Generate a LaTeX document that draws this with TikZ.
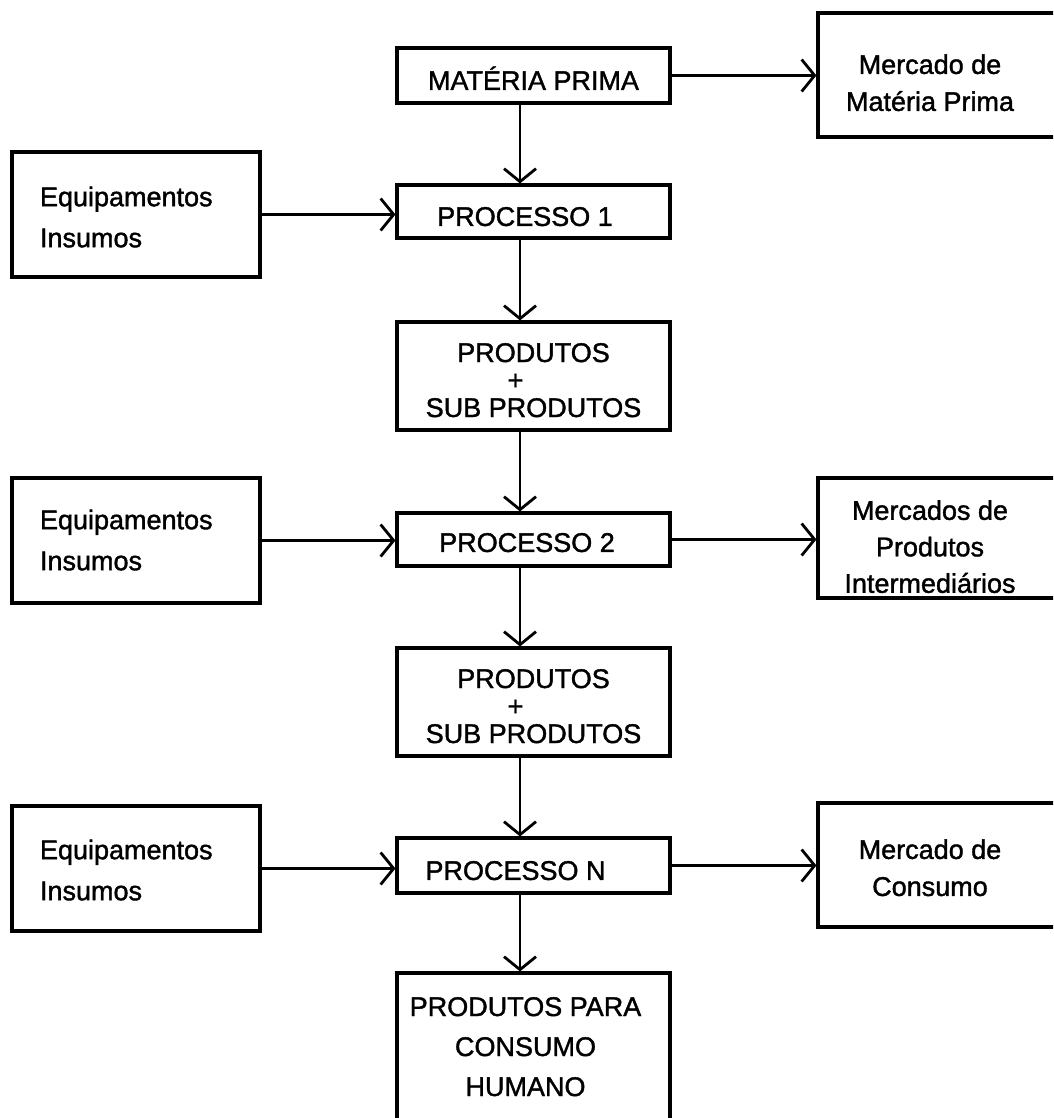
\documentclass[tikz,border=0pt]{standalone}
\usepackage{fontspec}
\setmainfont{Liberation Sans}[FakeBold=1.4]
\usetikzlibrary{arrows.meta}

% centred block of lines, lowered by #1 pt without changing the box size
\newcommand\txtc[2][5]{\raisebox{-#1pt}[\height][\depth]{\begin{tabular}{@{}c@{}}#2\end{tabular}}}
% left-aligned block of lines in a fixed-width slot
\newcommand\txtl[2][5]{\makebox[192pt][l]{\raisebox{-#1pt}[\height][\depth]{\begin{tabular}{@{}l@{}}#2\end{tabular}}}}
% centred block moved left inside the wide market boxes
\newcommand\txtr[2][5]{\txtc[#1]{#2}\hspace*{38pt}}

\begin{document}
\begin{tikzpicture}[x=1pt,y=-1pt,
  every node/.style={inner sep=0pt, font=\fontsize{27}{37}\selectfont},
  box/.style={draw, line width=3.1pt, minimum width=273pt},
  sidebox/.style={draw, line width=3.1pt, minimum width=248pt, minimum height=125pt,
                  font=\fontsize{27}{41}\selectfont},
  mktbox/.style={draw, line width=3.1pt, minimum width=262pt},
  link/.style={line width=2.8pt, -{Straight Barb[length=13pt,width=32pt]}}
]
\useasboundingbox (0,0) rectangle (1053,1118);
\fill[white] (0,0) rectangle (1053,1118);
\clip (0,0) rectangle (1053,1118);

% main process column
\node[box, minimum height=55pt] (mp) at (533.5,75.5) {\txtc[7]{MATÉRIA PRIMA}};
\node[box, minimum height=53pt] (p1) at (533.5,211.5) {\txtc[7]{PROCESSO 1}\hspace*{17pt}};
\node[box, minimum height=108pt, font=\fontsize{27}{27.5}\selectfont] (pr1) at (533.5,376)
  {\txtc[8]{PRODUTOS\\\hspace*{-36pt}+\\SUB PRODUTOS}};
\node[box, minimum height=53pt] (p2) at (533.5,539.5) {\txtc[5]{PROCESSO 2}\hspace*{13pt}};
\node[box, minimum height=108pt, font=\fontsize{27}{27.5}\selectfont] (pr2) at (533.5,702)
  {\txtc[8]{PRODUTOS\\\hspace*{-36pt}+\\SUB PRODUTOS}};
\node[box, minimum height=55pt] (pn) at (533.5,865.5) {\txtc[7]{PROCESSO N}\hspace*{36pt}};
\node[box, minimum height=152pt, font=\fontsize{27}{40}\selectfont] (ppc) at (533.5,1049)
  {\txtc[-1]{PRODUTOS PARA\\CONSUMO\\HUMANO}\hspace*{16pt}};

% inputs
\node[sidebox] (eq1) at (136,214.5) {\txtl[4]{Equipamentos\\Insumos}};
\node[sidebox] (eq2) at (136,540.5) {\txtl[1]{Equipamentos\\Insumos}};
\node[sidebox] (eq3) at (136,868.5) {\txtl[3]{Equipamentos\\Insumos}};

% markets
\node[mktbox, minimum height=124pt] (mmp) at (949,75) {\txtr[10]{Mercado de\\Matéria Prima}};
\node[mktbox, minimum height=120pt, font=\fontsize{27}{36.5}\selectfont] (mpi) at (949,538)
  {\txtr[11]{Mercados de\\Produtos\\Intermediários}};
\node[mktbox, minimum height=124pt] (mc) at (949,865) {\txtr[5]{Mercado de\\Consumo}};

% vertical flow
\coordinate (cx) at (520,0);
\draw[link] (mp.south -| cx) -- (p1.north -| cx);
\draw[link] (p1.south -| cx) -- (pr1.north -| cx);
\draw[link] (pr1.south -| cx) -- (p2.north -| cx);
\draw[link] (p2.south -| cx) -- (pr2.north -| cx);
\draw[link] (pr2.south -| cx) -- (pn.north -| cx);
\draw[link] (pn.south -| cx) -- (ppc.north -| cx);

% horizontal flow
\draw[link] (mp.east) -- (mp.east -| mmp.west);
\draw[link] (eq1.east) -- (eq1.east -| p1.west);
\draw[link] (eq2.east) -- (eq2.east -| p2.west);
\draw[link] (p2.east) -- (p2.east -| mpi.west);
\draw[link] (eq3.east) -- (eq3.east -| pn.west);
\draw[link] (pn.east) -- (pn.east -| mc.west);
\end{tikzpicture}
\end{document}
